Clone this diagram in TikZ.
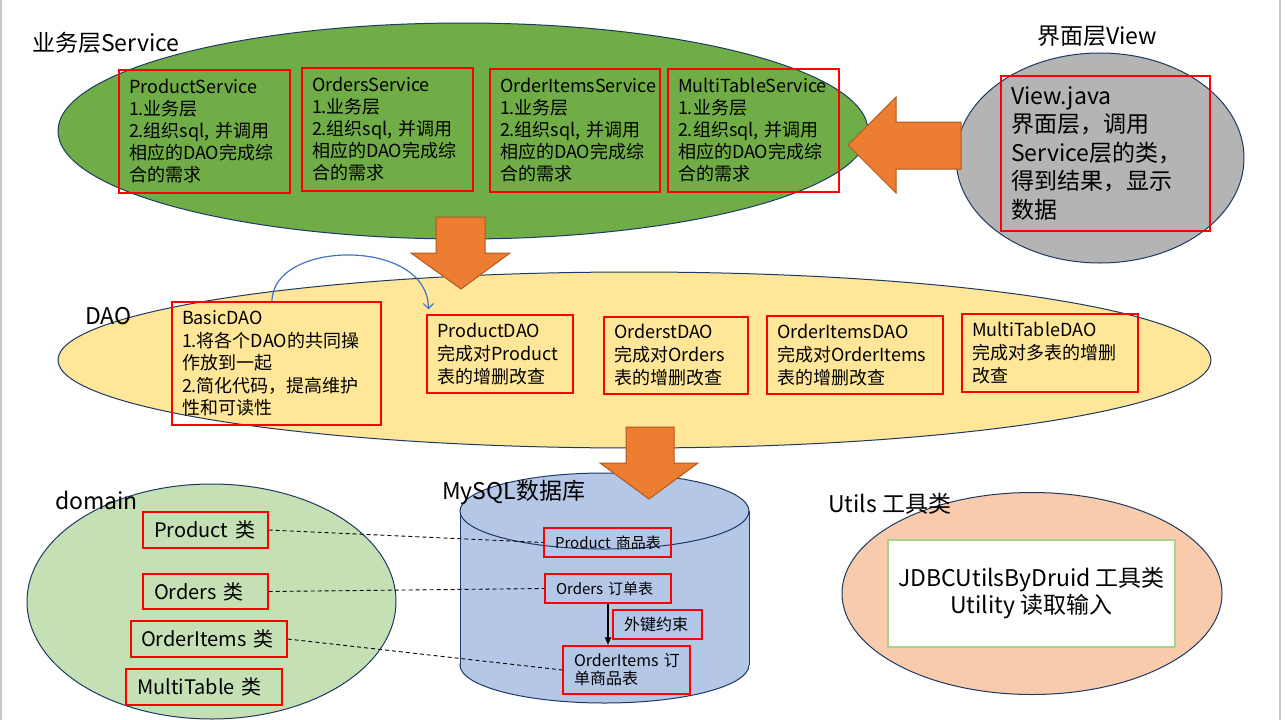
\documentclass[tikz,border=0pt]{standalone}
\usepackage{fontspec}
\setmainfont{Noto Sans CJK SC}
\usetikzlibrary{arrows.meta}
\definecolor{svcgreen}{HTML}{70AD47}
\definecolor{daoyel}{HTML}{FFE699}
\definecolor{dbblue}{HTML}{B4C7E7}
\definecolor{domgreen}{HTML}{C5E0B4}
\definecolor{utilor}{HTML}{F8CBAD}
\definecolor{viewgray}{HTML}{B4B4B4}
\definecolor{edgenavy}{HTML}{1F3864}
\definecolor{orangef}{HTML}{ED7D31}
\definecolor{oranged}{HTML}{AE5A21}
\definecolor{linkblue}{HTML}{4472C4}
\definecolor{boxred}{HTML}{FF0000}
\definecolor{utilgreen}{HTML}{A9D18E}
\definecolor{framegray}{HTML}{C8C8C8}
\newcommand\fsvc{\fontsize{18}{22}\selectfont}
\newcommand\fview{\fontsize{23}{28.5}\selectfont}
\newcommand\fdao{\fontsize{18}{23}\selectfont}
\newcommand\fbasic{\fontsize{18}{22.5}\selectfont}
\newcommand\fdom{\fontsize{20}{24}\selectfont}
\newcommand\fdbs{\fontsize{15}{18}\selectfont}
\newcommand\fdbm{\fontsize{16}{18}\selectfont}
\newcommand\ftitle{\fontsize{23}{28}\selectfont}
\newcommand\futil{\fontsize{23}{27}\selectfont}
\begin{document}
\begin{tikzpicture}[x=1pt,y=-1pt,
  every node/.style={inner sep=0pt},
  rbox/.style={draw=boxred, line width=1.2pt, inner xsep=10pt, inner ysep=0pt, align=left, anchor=center},
  layer/.style={draw=edgenavy, line width=1pt},
  bigarrow/.style={fill=orangef, draw=oranged, line width=1pt},
  ttl/.style={font=\ftitle, anchor=west},
  dashlink/.style={draw=black, dash pattern=on 4pt off 3pt, line width=0.9pt}
]
\useasboundingbox (0,0) rectangle (1285,720);
\fill[white] (0,0) rectangle (1285,720);
\draw[framegray, line width=1.5pt] (1,0) -- (1,720);
\draw[framegray, line width=1.5pt] (1280,0) -- (1280,720);

% layer shapes
\filldraw[layer, fill=svcgreen] (463,131) ellipse [x radius=405pt, y radius=108pt];
\filldraw[layer, fill=viewgray] (1100,158) ellipse [x radius=144pt, y radius=105pt];
\filldraw[layer, fill=daoyel] (634.5,360) ellipse [x radius=576.5pt, y radius=88pt];
\filldraw[layer, fill=domgreen] (211.5,601.5) ellipse [x radius=184.5pt, y radius=117.5pt];
\filldraw[layer, fill=utilor] (1032,593.5) ellipse [x radius=190pt, y radius=101pt];
% cylinder
\filldraw[layer, fill=dbblue] (604.5,665) ellipse [x radius=144.5pt, y radius=38pt];
\fill[dbblue] (460,511) rectangle (749,665);
\draw[layer] (460,511) -- (460,665) (749,511) -- (749,665);
\filldraw[layer, fill=dbblue] (604.5,511) ellipse [x radius=144.5pt, y radius=38pt];

% titles
\node[ttl] (tsvc) at (32,43) {业务层Service};
\node[font=\ftitle] (tview) at (1097,36) {界面层View};
\node[ttl] (tdao) at (85,316) {DAO};
\node[ttl] (tdom) at (55,500) {domain};
\node[ttl] (tdb) at (442,493) {MySQL数据库};
\node[ttl] (tutil) at (828,504) {Utils 工具类};

% service boxes
\node[rbox, text width=151pt, minimum height=123pt, font=\fsvc] (ps) at (204.5,131.5) {ProductService\\1.业务层\\2.组织sql,~并调用\\相应的DAO完成综\\合的需求};
\node[rbox, text width=151pt, minimum height=123pt, font=\fsvc] (os) at (387.5,129.5) {OrdersService\\1.业务层\\2.组织sql,~并调用\\相应的DAO完成综\\合的需求};
\node[rbox, text width=150pt, minimum height=123pt, font=\fsvc] (ois) at (575,130.5) {OrderItemsService\\1.业务层\\2.组织sql,~并调用\\相应的DAO完成综\\合的需求};
\node[rbox, text width=151pt, minimum height=123pt, font=\fsvc] (mts) at (753.5,130.5) {MultiTableService\\1.业务层\\2.组织sql,~并调用\\相应的DAO完成综\\合的需求};

% view box
\node[rbox, text width=189pt, minimum height=155pt, font=\fview] (view) at (1105.5,153.5) {View.java\\界面层，调用\\Service层的类，\\得到结果，显示\\数据};

% DAO boxes
\node[rbox, text width=189pt, minimum height=123pt, font=\fbasic] (basic) at (276.5,363.5) {BasicDAO\\1.将各个DAO的共同操\\作放到一起\\2.简化代码，提高维护\\性和可读性};
\node[rbox, text width=126pt, minimum height=78pt, font=\fdao] (pdao) at (500,354) {ProductDAO\\完成对Product\\表的增删改查};
\node[rbox, text width=124pt, minimum height=77pt, font=\fdao] (odao) at (676,355.5) {OrderstDAO\\完成对Orders\\表的增删改查};
\node[rbox, text width=156pt, minimum height=78pt, font=\fdao] (oidao) at (855,355) {OrderItemsDAO\\完成对OrderItems\\表的增删改查};
\node[rbox, text width=156pt, minimum height=78pt, font=\fdao] (mtdao) at (1050,353) {MultiTableDAO\\完成对多表的增删\\改查};

% domain boxes
\node[rbox, inner xsep=11pt, text width=103pt, minimum height=36pt, font=\fdom] (pc) at (205.5,530) {Product~类};
\node[rbox, inner xsep=11pt, text width=103pt, minimum height=35pt, font=\fdom] (oc) at (205.5,591.5) {Orders~类};
\node[rbox, inner xsep=10pt, text width=136pt, minimum height=36pt, font=\fdom] (oic) at (209,639) {OrderItems~类};
\node[rbox, inner xsep=11pt, text width=134pt, minimum height=36pt, font=\fdom] (mtc) at (204,687) {MultiTable~类};

% database boxes
\node[rbox, inner xsep=11pt, text width=105pt, minimum height=29pt, font=\fdbs] (pt) at (607.5,542.5) {Product~商品表};
\node[rbox, inner xsep=11pt, text width=104pt, minimum height=29pt, font=\fdbs] (ot) at (608,588.5) {Orders~订单表};
\node[rbox, inner xsep=11pt, text width=67pt, minimum height=29pt, font=\fdbm] (fk) at (657.5,624.5) {外键约束};
\node[rbox, inner xsep=11pt, text width=105pt, minimum height=48pt, font=\fdbm] (oit) at (626.5,670) {OrderItems~订\\单商品表};

% utils box
\node[draw=utilgreen, fill=white, line width=1.5pt, minimum width=287pt, minimum height=107pt, align=center, font=\futil] (jdbc) at (1031.5,593.5) {JDBCUtilsByDruid 工具类\\Utility 读取输入};

% big orange arrows
\filldraw[bigarrow] (848,145) -- (896,97) -- (896,122) -- (961,122) -- (961,169) -- (896,169) -- (896,193) -- cycle;
\filldraw[bigarrow] (461,289) -- (411,253) -- (436,253) -- (436,217) -- (485,217) -- (485,253) -- (510,253) -- cycle;
\filldraw[bigarrow] (649,499) -- (600,463) -- (626,463) -- (626,427) -- (674,427) -- (674,463) -- (698,463) -- cycle;

% connectors
\draw[linkblue, line width=1.2pt, -{Straight Barb[length=5pt,width=10pt]}] ([xshift=-4.5pt]basic.north) .. controls +(0,-62) and +(0,-72) .. ([xshift=2pt,yshift=5pt]pdao.north west);
\draw[line width=1.3pt, -{Latex[length=8pt,width=7pt]}] (ot.south) -- (ot.south |- oit.north);
\draw[dashlink] (pc.east) -- (pt.west);
\draw[dashlink] (oc.east) -- (ot.west);
\draw[dashlink] (oic.east) -- (oit.west);
\end{tikzpicture}
\end{document}
